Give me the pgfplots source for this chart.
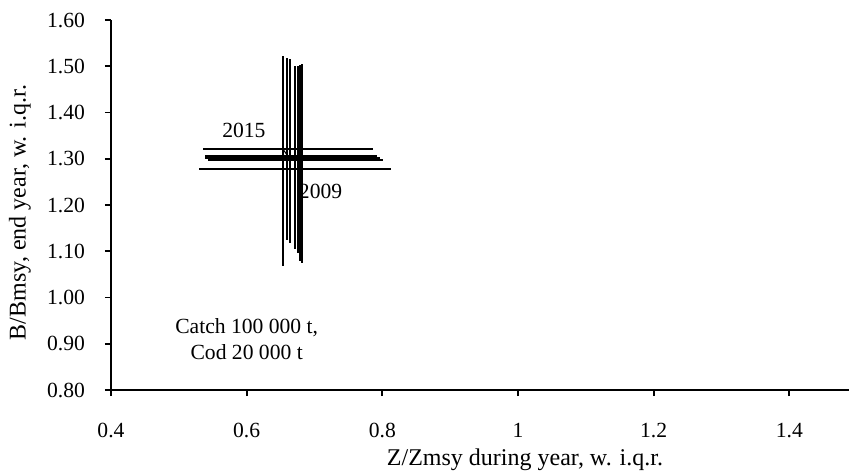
\documentclass[border=0pt]{standalone}
\usepackage{fontspec}
\setmainfont{Liberation Serif}
\usepackage{pgfplots}
\pgfplotsset{compat=1.18}
\begin{document}
\begin{tikzpicture}[font=\fontsize{10.8bp}{13bp}\selectfont]
\useasboundingbox (-55.5bp,-42bp) rectangle (369bp,195bp);
\begin{axis}[
  at={(0,0)}, anchor=south west,
  scale only axis, width=369bp, height=185bp,
  xmin=0.4, xmax=1.488, ymin=0.8, ymax=1.6,
  axis lines*=left,
  axis line style={line width=1.1bp},
  xtick={0.4,0.6,0.8,1,1.2,1.4},
  ytick={0.8,0.9,1.0,1.1,1.2,1.3,1.4,1.5,1.6},
  yticklabel style={xshift=-6.5bp},
  yticklabel style={/pgf/number format/.cd, fixed, fixed zerofill, precision=2},
  xticklabel style={yshift=-10bp},
  /pgf/number format/assume math mode=true,
  tick align=outside, tick style={black, line width=0.9bp},
  major tick length=3bp,
  every tick label/.append style={font=\fontsize{10.8bp}{13bp}\selectfont},
  xlabel={Z/Zmsy during year, w. i.q.r.},
  ylabel={B/Bmsy, end year, w. i.q.r.},
  xlabel style={at={(axis description cs:0.561,0)}, anchor=center, yshift=-35bp, font=\fontsize{12bp}{14bp}\selectfont},
  ylabel style={at={([xshift=-45.5bp]axis description cs:0,0.48)}, anchor=center, font=\fontsize{12bp}{14bp}\selectfont},
  clip=false,
]
\addplot[black, line width=0.5bp, mark=none,
  error bars/.cd, x dir=both, x explicit, y dir=both, y explicit,
  error mark=none, error bar style={line width=1bp, black}]
  coordinates {
    (0.681,1.277) += (0.1315,0.228) -= (0.151,0.202)
    (0.679,1.297) += (0.122,0.206) -= (0.1355,0.219)
    (0.675,1.297) += (0.125,0.203) -= (0.132,0.201)
    (0.671,1.302) += (0.126,0.199) -= (0.132,0.197)
    (0.6645,1.307) += (0.1275,0.208) -= (0.1255,0.189)
    (0.660,1.307) += (0.130,0.211) -= (0.122,0.183)
    (0.654,1.320) += (0.132,0.203) -= (0.118,0.251)
  };
\node at (axis cs:0.596,1.362) {2015};
\node at (axis cs:0.709,1.229) {2009};
\node[align=center, inner sep=0pt] at (axis cs:0.60,0.910) {Catch 100 000 t,\\Cod 20 000 t};
\end{axis}
\end{tikzpicture}
\end{document}
